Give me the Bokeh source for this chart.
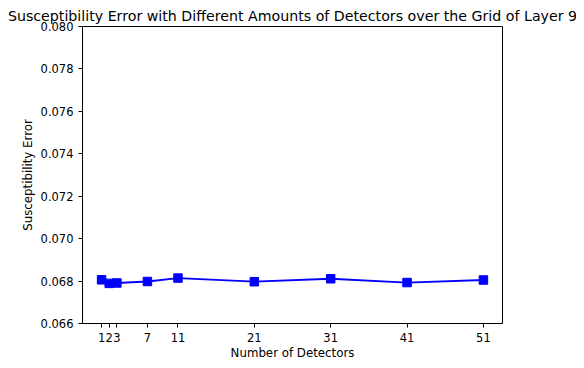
from bokeh.plotting import figure
from bokeh.models import FixedTicker, Range1d, NumeralTickFormatter
from bokeh.embed import file_html
from bokeh.resources import INLINE

detectors = [1, 2, 3, 7, 11, 21, 31, 41, 51]
errors = [0.06806, 0.06789, 0.06791, 0.06798, 0.06814, 0.06797, 0.06811, 0.06793, 0.06805]
y_ticks = [0.066, 0.068, 0.070, 0.072, 0.074, 0.076, 0.078, 0.080]

FONT = "DejaVu Sans"

p = figure(width=576, height=360, output_backend="svg", toolbar_location=None,
           x_range=Range1d(-1.5, 53.5), y_range=Range1d(0.066, 0.080),
           min_border_left=82, min_border_right=74, min_border_top=26, min_border_bottom=37)
p.frame_width = 420
p.frame_height = 297

p.title.text = "Susceptibility Error with Different Amounts of Detectors over the Grid of Layer 9"
p.title.text_font = FONT
p.title.text_font_size = "14.2px"
p.title.text_font_style = "normal"
p.title.text_color = "black"
p.title.align = "center"
p.title.offset = 0
p.title.standoff = 5

p.line(detectors, errors, line_color="#0000ff", line_width=1.8)
p.scatter(detectors, errors, marker="square", size=8.5, fill_color="#0000ff", line_color="#0000ff")

p.grid.visible = False
p.outline_line_color = "black"
p.outline_line_width = 1
p.background_fill_color = "white"
p.border_fill_color = "white"

p.xaxis.ticker = FixedTicker(ticks=detectors)
p.yaxis.ticker = FixedTicker(ticks=y_ticks)
p.yaxis.formatter = NumeralTickFormatter(format="0.000")
p.xaxis.axis_label = "Number of Detectors"
p.yaxis.axis_label = "Susceptibility Error"

for ax in (p.xaxis[0], p.yaxis[0]):
    ax.major_label_text_font = FONT
    ax.major_label_text_font_size = "11.5px"
    ax.major_label_text_color = "black"
    ax.axis_label_text_font = FONT
    ax.axis_label_text_font_size = "11.8px"
    ax.axis_label_text_font_style = "normal"
    ax.axis_label_text_color = "black"
    ax.axis_line_color = "black"
    ax.major_tick_line_color = "black"
    ax.major_tick_out = 4
    ax.major_tick_in = 0
    ax.minor_tick_line_color = None
    ax.major_label_standoff = 5
p.xaxis[0].axis_label_standoff = 1
p.yaxis[0].axis_label_standoff = 3

open("out.html", "w").write(file_html(p, INLINE))
